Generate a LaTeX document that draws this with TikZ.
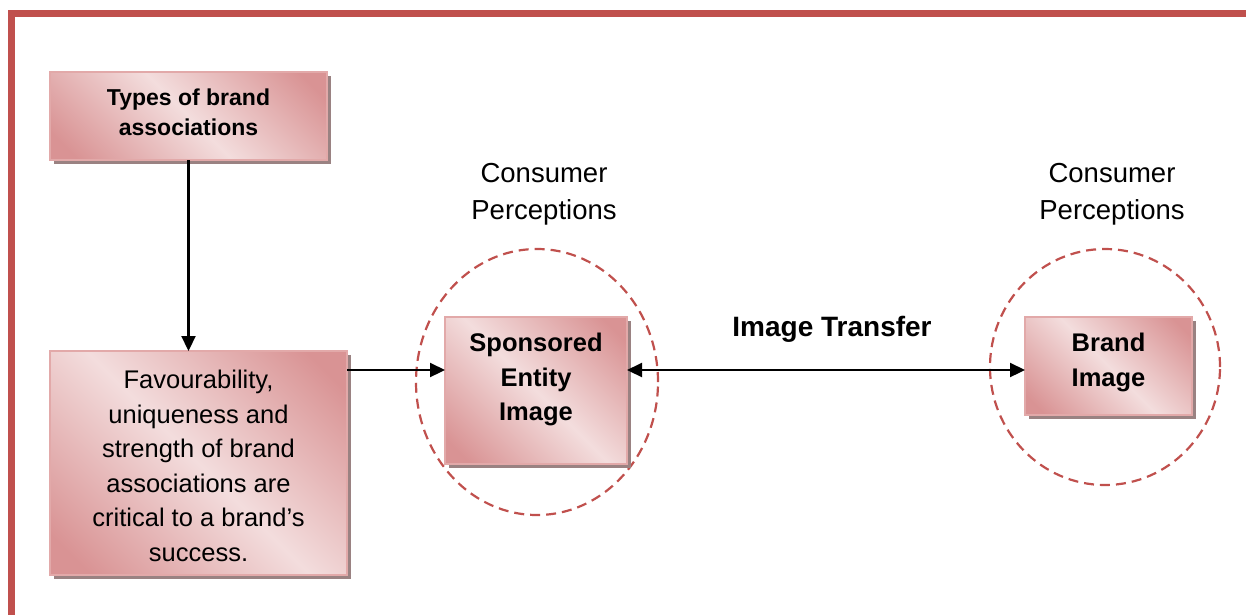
\documentclass[tikz,border=0pt]{standalone}
\usepackage{fontspec}
\setmainfont{Liberation Sans}
\usetikzlibrary{arrows.meta,shadows,calc,shapes.geometric}
\definecolor{frame}{HTML}{C0504D}
\definecolor{lt}{HTML}{F3DDDD}
\definecolor{dk}{HTML}{D99394}
\definecolor{bord}{HTML}{E2A9A9}
\definecolor{shad}{HTML}{9A8282}
\pgfdeclarehorizontalshading{bands}{100bp}{color(0bp)=(dk); color(20bp)=(dk); color(50bp)=(lt); color(80bp)=(dk); color(100bp)=(dk)}
\tikzset{
  box/.style={draw=bord, line width=1.5pt, shading=bands, shading angle=45,
    general shadow={fill=shad, shadow xshift=3.5pt, shadow yshift=-3.5pt},
    inner sep=0pt, outer sep=0pt},
  perc/.style={draw=frame, dash pattern=on 10pt off 6pt, line width=2.2pt},
  conn/.style={line width=2.2pt, -{Triangle[length=15pt,width=14pt]}},
  dconn/.style={line width=2.2pt, {Triangle[length=15pt,width=14pt]}-{Triangle[length=15pt,width=14pt]}},
  txt/.style={align=center, inner sep=0pt, font=\fontsize{25.5}{34.5}\selectfont},
  btxt/.style={align=center, inner sep=0pt, font=\fontsize{25.5}{34.5}\selectfont\bfseries}
}
\begin{document}
\begin{tikzpicture}[x=1pt,y=-1pt]
\useasboundingbox (0,0) rectangle (1246,614);
% frame
\draw[frame, line width=7pt, line join=miter] (11.75,620) |- (1252,13.5);
% ellipses
\node[perc, ellipse, minimum width=242pt, minimum height=266pt, inner sep=0pt] (e1) at (537,382) {};
\node[perc, ellipse, minimum width=230pt, minimum height=236pt, inner sep=0pt] (e2) at (1105,367) {};
% boxes
\node[box, minimum width=277pt, minimum height=88pt] (types) at (188.5,116) {};
\node[box, minimum width=297pt, minimum height=224pt] (fav) at (198.5,463) {};
\node[box, minimum width=182pt, minimum height=147pt] (spons) at (536,390.5) {};
\node[box, minimum width=167pt, minimum height=98pt] (brand) at (1108.5,366) {};
% texts
\node[btxt, font=\fontsize{23}{30}\selectfont\bfseries] (ttypes) at (188.5,112) {Types of brand\\associations};
\node[txt] (tfav) at (198.5,466) {Favourability,\\uniqueness and\\strength of brand\\associations are\\critical to a brand’s\\success.};
\node[btxt] (tspons) at (536,379.5) {Sponsored\\Entity\\Image};
\node[btxt] (tbrand) at (1108.5,362.5) {Brand\\Image};
\node[txt, font=\fontsize{27.5}{37}\selectfont] (cp1) at (544,194) {Consumer\\Perceptions};
\node[txt, font=\fontsize{27.5}{37}\selectfont] (cp2) at (1112,194) {Consumer\\Perceptions};
\node[btxt, font=\fontsize{28}{34}\selectfont\bfseries] (it) at (832,329) {Image Transfer};
% connectors
\coordinate (ay) at (0,370);
\draw[conn] (types.south) -- (types.south |- fav.north);
\draw[conn] (fav.east |- ay) -- (spons.west |- ay);
\draw[dconn] (spons.east |- ay) -- (brand.west |- ay);
\end{tikzpicture}
\end{document}
